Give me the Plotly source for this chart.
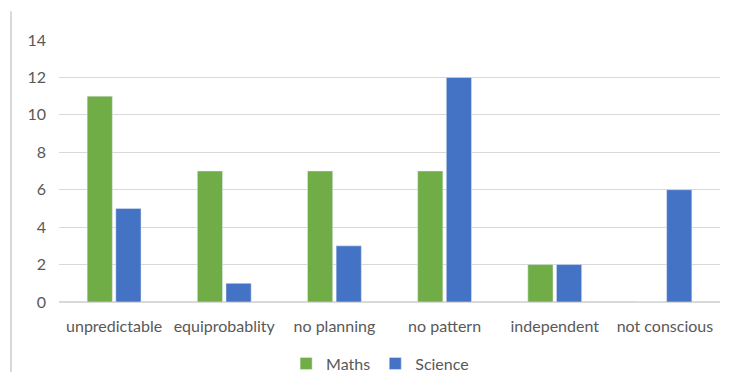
import plotly.graph_objects as go

categories = ["unpredictable", "equiprobablity", "no planning", "no pattern", "independent", "not conscious"]
maths = [11, 7, 7, 7, 2, 0]
science = [5, 1, 3, 12, 2, 6]
y_ticks = [0, 2, 4, 6, 8, 10, 12, 14]

font_family = "Lato, 'Open Sans', sans-serif"
fig = go.Figure()
fig.add_trace(go.Bar(name="Maths", x=categories, y=maths, marker_color="#70AD47"))
fig.add_trace(go.Bar(name="Science", x=categories, y=science, marker_color="#4472C4"))

fig.update_layout(
    width=731, height=372,
    margin=dict(l=59, r=11, t=40, b=70, autoexpand=False),
    paper_bgcolor="white", plot_bgcolor="white",
    barmode="group", bargap=0.48, bargroupgap=0.12,
    font=dict(family=font_family, size=16, color="#595959"),
    showlegend=True,
    legend=dict(orientation="h", x=0.52, xanchor="center", xref="container",
                y=-0.235, yanchor="middle", yref="paper",
                font=dict(size=16, color="#595959"), itemwidth=30,
                tracegroupgap=0),
    xaxis=dict(showgrid=False, showline=True, linecolor="#D9D9D9", linewidth=1,
               ticks="", tickfont=dict(size=16, color="#595959"), automargin=False,
               ticklabelstandoff=10),
    yaxis=dict(range=[0, 14], tickvals=y_ticks, showgrid=True, gridcolor="#D9D9D9",
               zeroline=True, zerolinecolor="#D9D9D9", showline=False, ticks="",
               ticklabelstandoff=12, automargin=False,
               tickfont=dict(size=16, color="#595959")),
    shapes=[dict(type="line", xref="paper", yref="paper", x0=-0.0726, x1=-0.0726,
                 y0=-0.29, y1=1.11, line=dict(color="#D9D9D9", width=2))],
)
fig.write_html("out.html")
